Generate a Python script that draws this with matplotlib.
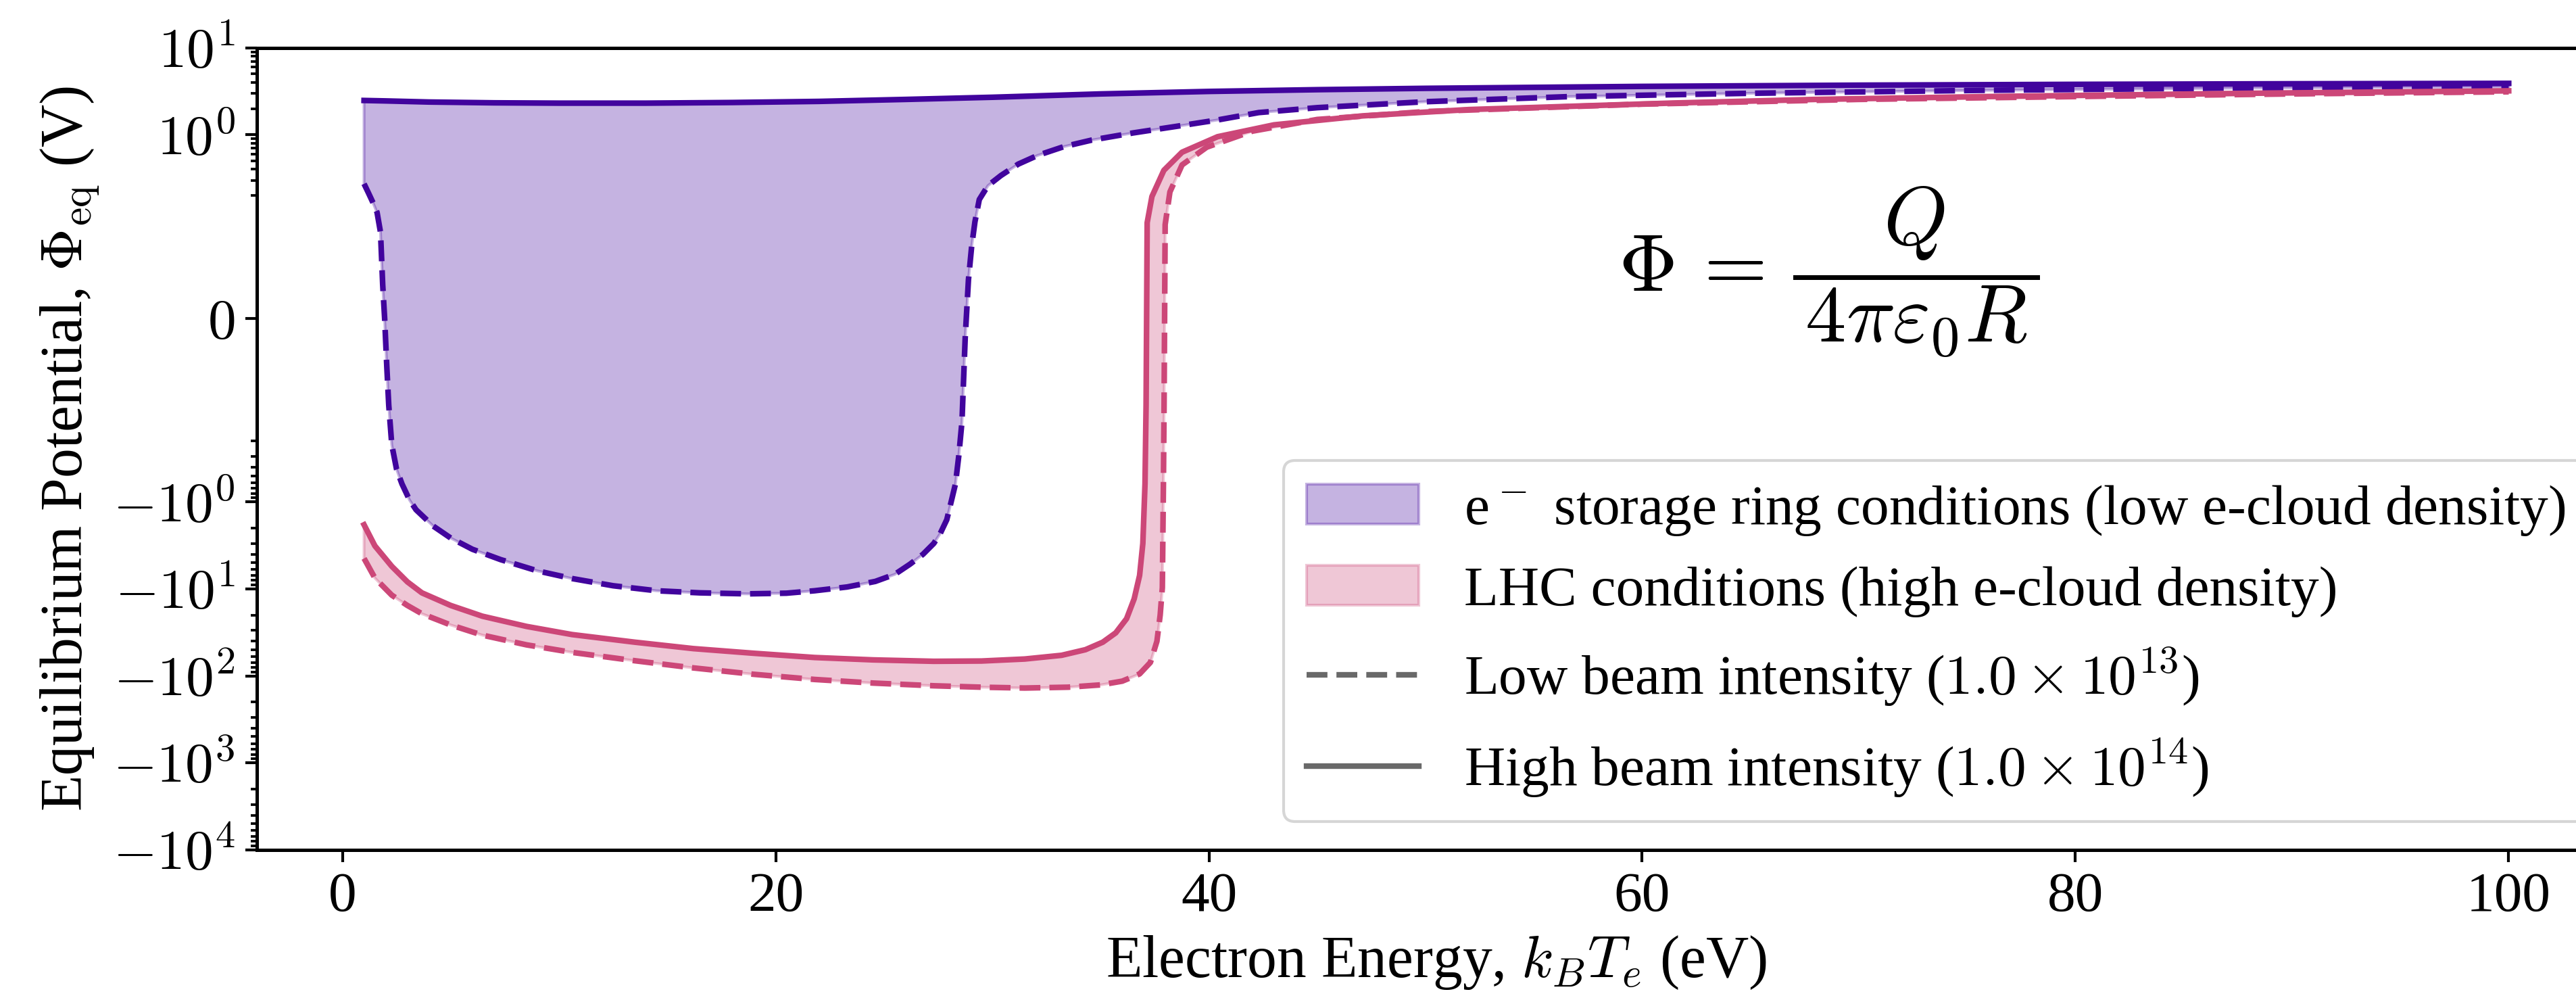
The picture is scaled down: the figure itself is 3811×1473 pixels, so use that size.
import numpy as np
import matplotlib
matplotlib.use("Agg")
import matplotlib.pyplot as plt
from matplotlib.lines import Line2D
from matplotlib.ticker import SymmetricalLogLocator, FixedLocator, FixedFormatter

# e- storage ring, high beam intensity (1e14)
ring_high_x = [1.0, 2.0, 4.0, 7.0, 10.0, 14.0, 18.0, 22.0, 26.0, 30.0, 35.0, 40.0,
               45.0, 50.0, 60.0, 70.0, 80.0, 90.0, 100.0]
ring_high_y = [2.48, 2.45, 2.38, 2.33, 2.31, 2.31, 2.35, 2.42, 2.55, 2.7, 2.95, 3.15,
               3.3, 3.42, 3.6, 3.72, 3.8, 3.86, 3.9]

# e- storage ring, low beam intensity (1e13)
ring_low_x = [1.0, 1.2, 1.42, 1.6, 1.76, 1.86, 1.95, 2.05, 2.14, 2.28, 2.5, 2.75,
              3.1, 3.4, 4.2, 5.0, 6.0, 7.3, 9.0, 10.6, 12.5, 14.5, 16.5, 18.7,
              20.5, 21.8, 23.3, 24.6, 25.5, 26.2, 26.8, 27.3, 27.6, 27.9, 28.1,
              28.3, 28.45, 28.6, 28.75, 28.9, 29.05, 29.2, 29.4, 29.8, 30.4, 31.2,
              32.1, 33.3, 34.6, 36.5, 38.5, 40.4, 42.3, 45.0, 50.0, 56.7, 65.0,
              76.0, 88.0, 100.0]
ring_low_y = [0.273, 0.215, 0.164, 0.128, 0.089, 0.035, 0.0, -0.05, -0.09, -0.22,
              -0.42, -0.62, -0.95, -1.23, -1.9, -2.6, -3.5, -4.6, -6.2, -7.6, -9.2,
              -10.5, -11.1, -11.4, -11.2, -10.5, -9.5, -8.2, -6.8, -5.2, -4.0, -3.0,
              -2.3, -1.6, -1.0, -0.62, -0.3, -0.12, -0.02, 0.04, 0.075, 0.1, 0.18,
              0.26, 0.34, 0.46, 0.58, 0.73, 0.87, 1.05, 1.25, 1.48, 1.8, 2.05, 2.4,
              2.75, 3.0, 3.25, 3.45, 3.55]

# LHC, high beam intensity (1e14)
lhc_high_x = [1.0, 1.5, 2.28, 3.0, 3.67, 5.0, 6.46, 8.5, 10.6, 13.5, 16.2, 19.0,
              21.8, 24.5, 27.3, 29.5, 31.5, 33.2, 34.3, 35.1, 35.7, 36.2, 36.55,
              36.8, 36.95, 37.05, 37.1, 37.15, 37.37, 37.92, 38.76, 40.4, 43.0,
              47.1, 52.0, 61.5, 68.0, 75.9, 88.0, 100.0]
lhc_high_y = [-1.83, -3.2, -5.5, -8.3, -11.1, -15.5, -20.6, -27.0, -33.5, -41.0,
              -48.6, -55.0, -61.5, -65.5, -68.0, -67.5, -64.0, -58.0, -50.0, -41.0,
              -32.0, -22.0, -13.0, -7.0, -3.0, -0.62, -0.09, 0.099, 0.195, 0.39,
              0.63, 0.95, 1.3, 1.65, 1.95, 2.32, 2.55, 2.75, 3.0, 3.2]

# LHC, low beam intensity (1e13)
lhc_low_x = [1.0, 1.5, 2.28, 3.0, 3.67, 5.0, 6.46, 8.5, 10.6, 13.5, 16.2, 19.0,
             21.8, 24.5, 27.3, 29.5, 31.5, 33.5, 35.0, 36.0, 36.8, 37.3, 37.6,
             37.75, 37.85, 37.9, 37.93, 37.98, 38.2, 38.76, 39.9, 42.0, 45.0, 50.0,
             60.0, 70.0, 80.0, 90.0, 100.0]
lhc_low_y = [-4.46, -7.5, -11.8, -15.5, -19.3, -26.0, -34.0, -44.0, -53.7, -67.0,
             -81.0, -96.0, -110.0, -121.0, -130.0, -135.0, -138.0, -135.0, -127.0,
             -115.0, -95.0, -70.0, -40.0, -20.0, -9.7, -0.62, -0.09, 0.097, 0.22,
             0.45, 0.72, 1.1, 1.5, 1.85, 2.25, 2.55, 2.75, 2.95, 3.12]

ytick_values = [-1e4, -1e3, -1e2, -1e1, -1, 0, 1, 10]
ytick_labels = [r'$-10^{4}$', r'$-10^{3}$', r'$-10^{2}$', r'$-10^{1}$', r'$-10^{0}$',
                r'$0$', r'$10^{0}$', r'$10^{1}$']

legend_labels = [r'e$^-$ storage ring conditions (low e-cloud density)',
                 'LHC conditions (high e-cloud density)',
                 r'Low beam intensity ($1.0 \times 10^{13}$)',
                 r'High beam intensity ($1.0 \times 10^{14}$)']

purple = '#41049d'
pink = '#cc4778'

plt.rcParams['font.family'] = 'serif'
plt.rcParams['font.serif'] = ['Liberation Serif', 'DejaVu Serif']
plt.rcParams['mathtext.fontset'] = 'cm'
plt.rcParams['axes.linewidth'] = 1.2
plt.rcParams['xtick.major.size'] = 4.2
plt.rcParams['ytick.major.size'] = 4.2
plt.rcParams['ytick.minor.size'] = 2.2
plt.rcParams['xtick.major.width'] = 1.0
plt.rcParams['ytick.major.width'] = 1.0
plt.rcParams['ytick.minor.width'] = 0.9

fig = plt.figure(figsize=(3811 / 300, 1473 / 300), dpi=300)
ax = fig.add_axes([0.0997, 0.1468, 0.9158, 0.8052])
ax.set_yscale('symlog', linthresh=0.1, linscale=1.0)

# shaded regions between high and low intensity curves
ring_fill = ax.fill(np.concatenate([ring_high_x, ring_low_x[::-1]]),
                    np.concatenate([ring_high_y, ring_low_y[::-1]]),
                    color=purple, alpha=0.3)[0]
lhc_fill = ax.fill(np.concatenate([lhc_high_x, lhc_low_x[::-1]]),
                   np.concatenate([lhc_high_y, lhc_low_y[::-1]]),
                   color=pink, alpha=0.3)[0]

ax.plot(ring_high_x, ring_high_y, color=purple, lw=2.0)
ax.plot(ring_low_x, ring_low_y, color=purple, lw=2.0, ls='--')
ax.plot(lhc_high_x, lhc_high_y, color=pink, lw=2.0)
ax.plot(lhc_low_x, lhc_low_y, color=pink, lw=2.0, ls='--')

ax.set_ylim(-1e4, 10)
ax.yaxis.set_major_locator(FixedLocator(ytick_values))
ax.yaxis.set_major_formatter(FixedFormatter(ytick_labels))
ax.yaxis.set_minor_locator(SymmetricalLogLocator(linthresh=0.1, base=10,
                                                 subs=np.arange(2, 10)))
ax.tick_params(axis='both', which='major', labelsize=20)

ax.set_xlabel(r'Electron Energy, $k_BT_e$ (eV)', fontsize=21)
ax.set_ylabel(r'Equilibrium Potential, $\Phi_{\rm eq}$ (V)', fontsize=21)

ax.text(0.577, 0.72, r'$\Phi\,=\,\dfrac{Q}{\,4\pi\varepsilon_0 R\,}$', fontsize=29,
        transform=ax.transAxes, ha='left', va='center')

handles = [ring_fill, lhc_fill,
           Line2D([], [], color='dimgray', lw=2.0, ls='--'),
           Line2D([], [], color='dimgray', lw=2.0)]
ax.legend(handles, legend_labels, loc='lower right', fontsize=20)

fig.savefig('out.png', dpi=300)
